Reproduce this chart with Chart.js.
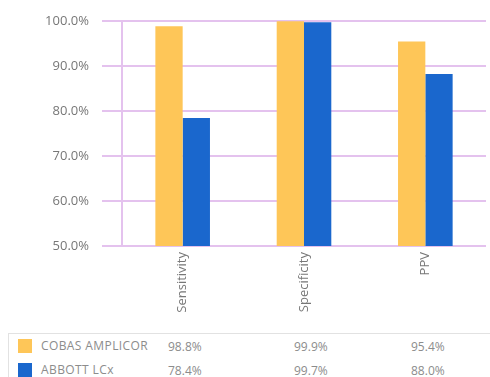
<!DOCTYPE html>
<html>
<head>
<meta charset="utf-8">
<script src="https://cdn.jsdelivr.net/npm/chart.js@4/dist/chart.umd.min.js"></script>
<style>
  html, body { margin: 0; padding: 0; background: #fff; overflow: hidden; }
  #wrap { position: relative; width: 490px; height: 330px; }
  #legendTable {
    position: absolute; left: 8px; top: 333px; width: 482px; height: 44px;
    border-top: 1px solid #e2e2e2; border-left: 1px solid #e2e2e2;
    font-family: "Open Sans", sans-serif; color: #8c8c8c;
  }
  .row { position: absolute; left: 0; height: 16px; width: 100%; }
  .sw { position: absolute; left: 9px; top: 0; width: 14px; height: 14px; }
  .lbl { position: absolute; left: 32px; top: -2px; font-size: 12px; letter-spacing: 0.4px; }
  .val { position: absolute; top: -1px; font-size: 12px; }
</style>
</head>
<body>
<div id="wrap"><canvas id="chart" width="490" height="330"></canvas></div>
<div id="legendTable"></div>
<script>
// categories and series
const categories = ['Sensitivity', 'Specificity', 'PPV'];
const cobasValues = [98.8, 99.9, 95.4];
const abbottValues = [78.4, 99.7, 88.2];
const seriesNames = ['COBAS AMPLICOR', 'ABBOTT LCx'];
const tableCobas = ['98.8%', '99.9%', '95.4%'];
const tableAbbott = ['78.4%', '99.7%', '88.0%'];

const yellow = '#FEC658';
const blue = '#1A67CD';
const gridPurple = '#e4c2ee';
const clear = 'rgba(0,0,0,0)';

const ctx = document.getElementById('chart').getContext('2d');

const chart = new Chart(ctx, {
  type: 'bar',
  data: {
    labels: categories,
    datasets: [
      { label: seriesNames[0], data: cobasValues, backgroundColor: yellow },
      { label: seriesNames[1], data: abbottValues, backgroundColor: blue }
    ]
  },
  options: {
    responsive: false,
    animation: false,
    layout: { padding: { top: 20, right: 4, left: 0, bottom: 0 } },
    plugins: { legend: { display: false }, tooltip: { enabled: false } },
    datasets: { bar: { categoryPercentage: 0.45, barPercentage: 1.0 } },
    scales: {
      x: {
        // only the left edge line is kept, as the vertical axis line
        grid: {
          offset: true, drawTicks: false, lineWidth: 2,
          color: c => c.index === 0 ? gridPurple : clear
        },
        border: { display: false },
        ticks: {
          minRotation: 90, maxRotation: 90, padding: 6,
          color: '#777', font: { family: '"Open Sans", sans-serif', size: 13 }
        },
        afterFit: s => { s.height = 84; }
      },
      y: {
        min: 50, max: 100,
        ticks: {
          stepSize: 10, padding: 13,
          color: '#777', font: { family: '"Open Sans", sans-serif', size: 13 },
          callback: v => v.toFixed(1) + '%'
        },
        grid: { color: gridPurple, lineWidth: 2, tickLength: 20 },
        border: { display: false },
        afterFit: s => { s.width = 122; }
      }
    }
  }
});

// data table / legend below the chart
const table = document.getElementById('legendTable');
const rows = [
  { color: yellow, name: seriesNames[0], vals: tableCobas, top: 5 },
  { color: blue, name: seriesNames[1], vals: tableAbbott, top: 29 }
];
const valX = [159, 285, 402];
rows.forEach(r => {
  const row = document.createElement('div');
  row.className = 'row';
  row.style.top = r.top + 'px';
  let html = '<div class="sw" style="background:' + r.color + '"></div>' +
             '<div class="lbl">' + r.name + '</div>';
  r.vals.forEach((v, i) => {
    html += '<div class="val" style="left:' + valX[i] + 'px">' + v + '</div>';
  });
  row.innerHTML = html;
  table.appendChild(row);
});
</script>
</body>
</html>
